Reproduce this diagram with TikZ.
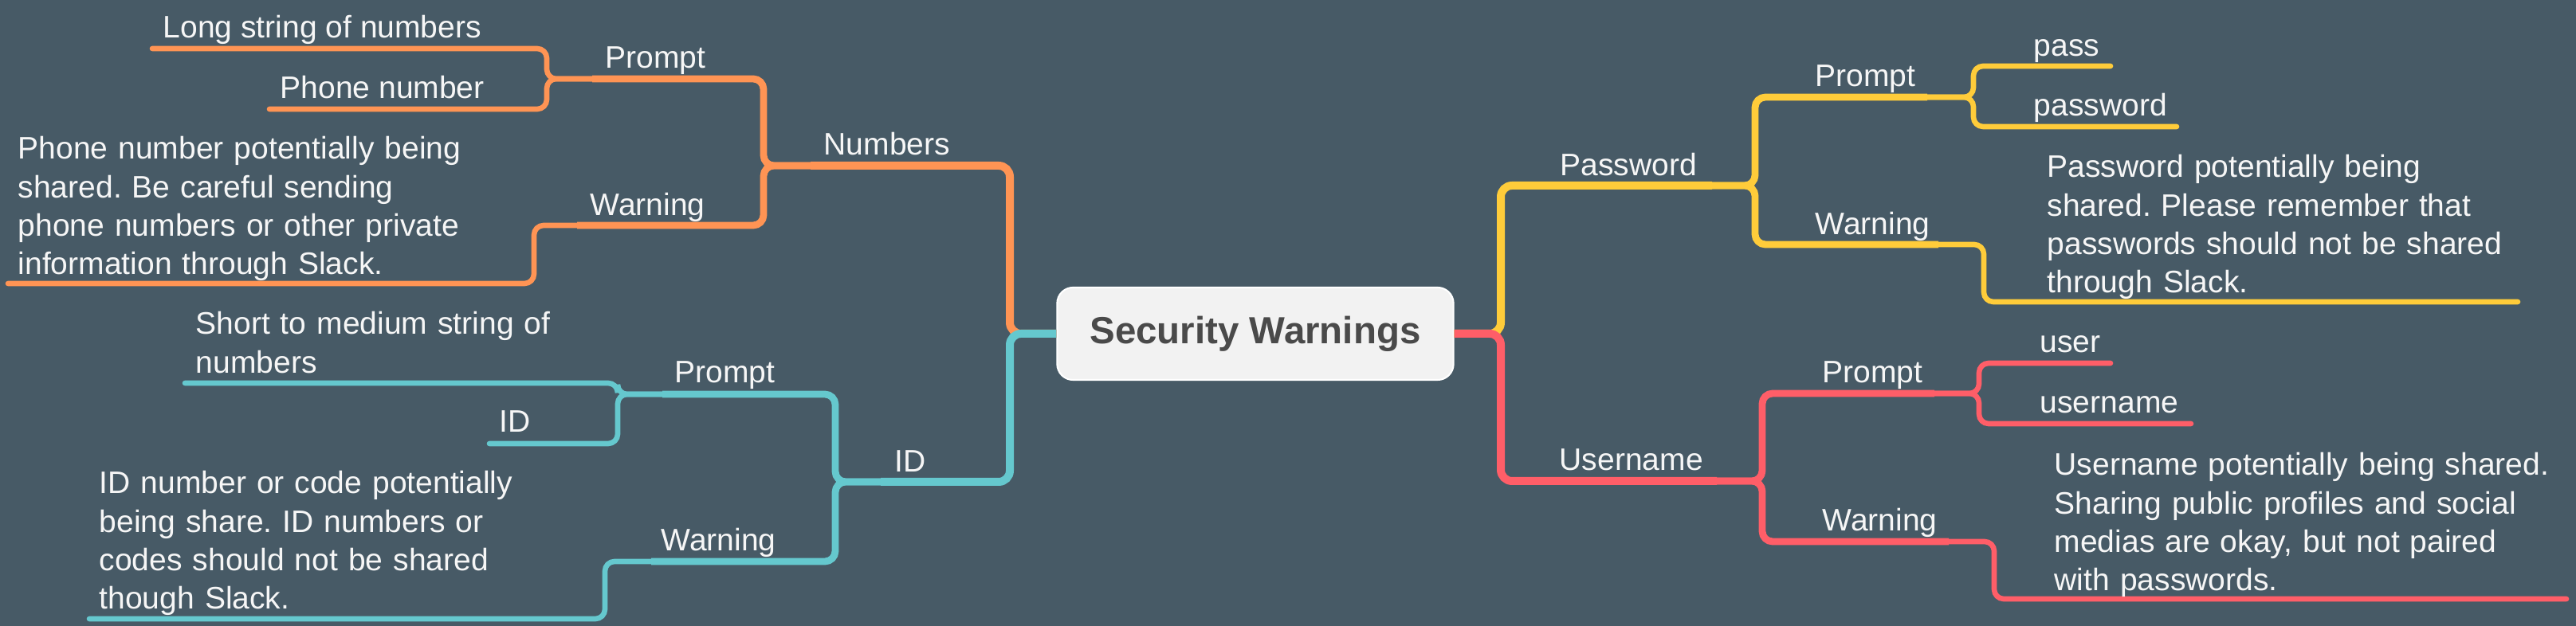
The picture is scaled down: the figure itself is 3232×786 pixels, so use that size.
\documentclass[tikz,border=0pt]{standalone}
\usepackage{fontspec}
\setmainfont{Liberation Sans}
\usepackage{xcolor}
\definecolor{bgc}{RGB}{71,90,102}
\definecolor{numc}{RGB}{255,148,84}
\definecolor{idc}{RGB}{101,200,206}
\definecolor{pwc}{RGB}{255,204,58}
\definecolor{unc}{RGB}{255,94,104}
\definecolor{rootfill}{RGB}{242,242,242}
\definecolor{roottext}{RGB}{74,74,74}
\definecolor{labc}{RGB}{246,246,246}
\frenchspacing

\begin{document}
\begin{tikzpicture}[x=0.01cm, y=-0.01cm,
 every node/.style={font=\fontsize{11.1}{13.66}\selectfont, text=labc},
root/.style={rectangle, rounded corners=0.2cm, minimum width=4.97cm, minimum height=1.16cm, fill=rootfill, draw=white, line width=0.6pt, text=roottext, font=\bfseries\fontsize{13.5}{16}\selectfont},
lbl/.style={inner sep=0pt, anchor=base west},
para/.style={lbl, align=left, text width=6.4cm},
main/.style={line width=0.1cm, rounded corners=0.14cm},
mid/.style={line width=0.088cm, rounded corners=0.13cm},
leaf/.style={line width=0.066cm, rounded corners=0.12cm, line cap=round}]

	\useasboundingbox (0,0) rectangle (3232,786);
	\fill[bgc] (0,0) rectangle (3232,786);

	\node[root] (root) at (1575,419) {Security Warnings};

	% left side
	\coordinate (jL) at (1267,419);
	\coordinate (numE) at (1017,208);
	\coordinate (jNum) at (958,208);
	\coordinate (nprE) at (743,99);
	\coordinate (jNpr) at (686,99);
	\coordinate (nlsE) at (191,61);
	\coordinate (nphE) at (338,137);
	\coordinate (nwaE) at (724,283);
	\coordinate (jNwa) at (670,283);
	\coordinate (nwtE) at (10,356);

	\coordinate (idE) at (1105,605);
	\coordinate (jId) at (1048,605);
	\coordinate (iprE) at (831,495);
	\coordinate (jIpr) at (775,495);
	\coordinate (ismE) at (232,481);
	\coordinate (iidE) at (614,557);
	\coordinate (iwaE) at (817,705);
	\coordinate (jIwa) at (759,705);
	\coordinate (iwtE) at (112,777);

	% right side
	\coordinate (jR) at (1883,419);
	\coordinate (pwE) at (2148,233);
	\coordinate (jPw) at (2202,233);
	\coordinate (pprE) at (2418,122);
	\coordinate (jPpr) at (2476,122);
	\coordinate (passE) at (2648,83);
	\coordinate (pwdE) at (2731,159);
	\coordinate (pwaE) at (2432,307);
	\coordinate (jPwa) at (2489,307);
	\coordinate (pwtE) at (3159,379);

	\coordinate (unE) at (2154,604);
	\coordinate (jUn) at (2211,604);
	\coordinate (uprE) at (2427,494);
	\coordinate (jUpr) at (2483,494);
	\coordinate (userE) at (2648,456);
	\coordinate (unmE) at (2749,532);
	\coordinate (uwaE) at (2445,680);
	\coordinate (jUwa) at (2502,680);
	\coordinate (uwtE) at (3220,752);

	% Numbers
	\draw[main, numc] (root.west) -- (jL) |- (numE);
	\draw[mid, numc] (numE) -- (jNum) |- (nprE);
	\draw[mid, numc] (numE) -- (jNum) |- (nwaE);
	\draw[leaf, numc] (nprE) -- (jNpr) |- (nlsE);
	\draw[leaf, numc] (nprE) -- (jNpr) |- (nphE);
	\draw[leaf, numc] (nwaE) -- (jNwa) |- (nwtE);

	% ID
	\draw[main, idc] (root.west) -- (jL) |- (idE);
	\draw[mid, idc] (idE) -- (jId) |- (iprE);
	\draw[mid, idc] (idE) -- (jId) |- (iwaE);
	\draw[leaf, idc] (iprE) -- (jIpr) |- (ismE);
	\draw[leaf, idc] (iprE) -- (jIpr) |- (iidE);
	\draw[leaf, idc] (iwaE) -- (jIwa) |- (iwtE);

	% Password
	\draw[main, pwc] (root.east) -- (jR) |- (pwE);
	\draw[mid, pwc] (pwE) -- (jPw) |- (pprE);
	\draw[mid, pwc] (pwE) -- (jPw) |- (pwaE);
	\draw[leaf, pwc] (pprE) -- (jPpr) |- (passE);
	\draw[leaf, pwc] (pprE) -- (jPpr) |- (pwdE);
	\draw[leaf, pwc] (pwaE) -- (jPwa) |- (pwtE);

	% Username
	\draw[main, unc] (root.east) -- (jR) |- (unE);
	\draw[mid, unc] (unE) -- (jUn) |- (uprE);
	\draw[mid, unc] (unE) -- (jUn) |- (uwaE);
	\draw[leaf, unc] (uprE) -- (jUpr) |- (userE);
	\draw[leaf, unc] (uprE) -- (jUpr) |- (unmE);
	\draw[leaf, unc] (uwaE) -- (jUwa) |- (uwtE);

	\node[lbl] (numbers) at (1033,195) {Numbers};
	\node[lbl] (nprompt) at (759,86) {Prompt};
	\node[lbl] (nlong) at (204,48) {Long string of numbers};
	\node[lbl] (nphone) at (351,124) {Phone number};
	\node[lbl] (nwarn) at (740,271) {Warning};
	\node[para] (nwtext) at (22,200) {Phone number potentially being\\ shared. Be careful sending\\ phone numbers or other private\\ information through Slack.};

	\node[lbl] (id) at (1122,593) {ID};
	\node[lbl] (iprompt) at (846,481) {Prompt};
	\node[para] (ishort) at (245,420) {Short to medium string of\\ numbers};
	\node[lbl] (iid) at (626,543) {ID};
	\node[lbl] (iwarn) at (829,692) {Warning};
	\node[para] (iwtext) at (124,620) {ID number or code potentially\\ being share. ID numbers or\\ codes should not be shared\\ though Slack.};

	\node[lbl] (password) at (1957,221) {Password};
	\node[lbl] (pprompt) at (2277,109) {Prompt};
	\node[lbl] (ppass) at (2551,71) {pass};
	\node[lbl] (ppassword) at (2551,146) {password};
	\node[lbl] (pwarn) at (2277,295) {Warning};
	\node[para] (pwtext) at (2568,223) {Password potentially being\\ shared. Please remember that\\ passwords should not be shared\\ through Slack.};

	\node[lbl] (username) at (1956,591) {Username};
	\node[lbl] (uprompt) at (2286,481) {Prompt};
	\node[lbl] (uuser) at (2559,443) {user};
	\node[lbl] (uusername) at (2559,519) {username};
	\node[lbl] (uwarn) at (2286,667) {Warning};
	\node[para] (uwtext) at (2577,597) {Username potentially being shared.\\ Sharing public profiles and social\\ medias are okay, but not paired\\ with passwords.};
\end{tikzpicture}
\end{document}
